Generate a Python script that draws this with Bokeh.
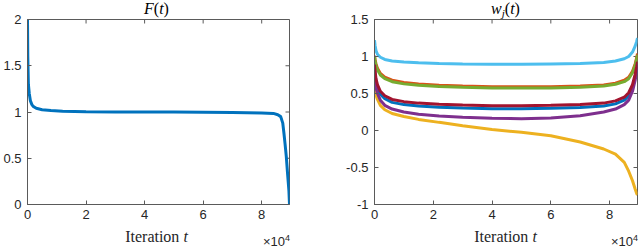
import math
from bokeh.plotting import figure
from bokeh.layouts import row, column
from bokeh.models import Range1d, FixedTicker, Div
from bokeh.embed import file_html
from bokeh.resources import INLINE

# ---- data (iterations t) ----
f_t = [0, 100, 300, 600, 1000, 1500, 2000, 3000, 5000, 8000, 12000, 20000, 30000, 40000,
       50000, 60000, 70000, 80000, 84000, 85500, 86500, 87200, 87600, 88000, 88400, 88800,
       89300, 89500]
f_val = [2.0, 1.6, 1.3, 1.2, 1.12, 1.08, 1.06, 1.04, 1.025, 1.015, 1.008, 1.003, 1.0, 1.0,
         1.0, 0.998, 0.995, 0.99, 0.985, 0.97, 0.95, 0.88, 0.77, 0.65, 0.52, 0.35, 0.15, 0.0]

w_t = [0, 200, 500, 1000, 2000, 3500, 6000, 10000, 15000, 22000, 30000, 40000, 50000,
       60000, 70000, 78000, 82000, 85000, 86500, 87800, 88700, 89200, 89500]
w_blue = [0.85, 0.76, 0.66, 0.58, 0.49, 0.43, 0.38, 0.35, 0.33, 0.315, 0.305, 0.295, 0.295,
          0.30, 0.31, 0.33, 0.36, 0.41, 0.47, 0.58, 0.72, 0.83, 0.90]
w_orange = [1.01, 0.96, 0.90, 0.84, 0.77, 0.72, 0.68, 0.65, 0.63, 0.61, 0.60, 0.59, 0.59,
            0.59, 0.60, 0.615, 0.64, 0.68, 0.72, 0.80, 0.90, 0.98, 1.04]
w_yellow = [0.62, 0.55, 0.48, 0.42, 0.34, 0.28, 0.23, 0.19, 0.15, 0.11, 0.065, 0.015, -0.025,
            -0.07, -0.155, -0.25, -0.32, -0.43, -0.55, -0.68, -0.79, -0.85, -0.87]
w_purple = [0.78, 0.68, 0.58, 0.50, 0.41, 0.34, 0.29, 0.25, 0.22, 0.195, 0.18, 0.165, 0.16,
            0.17, 0.20, 0.25, 0.29, 0.35, 0.41, 0.53, 0.68, 0.80, 0.88]
w_green = [1.0, 0.94, 0.88, 0.82, 0.75, 0.70, 0.66, 0.63, 0.61, 0.595, 0.585, 0.575, 0.575,
           0.575, 0.585, 0.60, 0.625, 0.66, 0.70, 0.78, 0.88, 0.96, 1.02]
w_lightblue = [1.22, 1.15, 1.08, 1.03, 0.99, 0.96, 0.94, 0.925, 0.915, 0.905, 0.90, 0.895,
               0.895, 0.90, 0.905, 0.92, 0.94, 0.97, 1.0, 1.06, 1.14, 1.20, 1.25]
w_darkred = [0.89, 0.80, 0.70, 0.62, 0.53, 0.47, 0.42, 0.39, 0.37, 0.355, 0.345, 0.335, 0.335,
             0.34, 0.35, 0.37, 0.40, 0.45, 0.51, 0.62, 0.76, 0.86, 0.93]

w_series = [w_blue, w_orange, w_yellow, w_purple, w_green, w_lightblue, w_darkred]
w_colors = ["#0072BD", "#D95319", "#EDB120", "#7E2F8E", "#77AC30", "#4DBEEE", "#A2142F"]

x_ticks = [0, 20000, 40000, 60000, 80000]
x_tick_labels = ["0", "2", "4", "6", "8"]
f_yticks = [0, 0.5, 1, 1.5, 2]
f_ytick_labels = ["0", "0.5", "1", "1.5", "2"]
w_yticks = [-1, -0.5, 0, 0.5, 1, 1.5]
w_ytick_labels = ["-1", "-0.5", "0", "0.5", "1", "1.5"]
x_max = 89500
f_ylim = (0, 2)
w_ylim = (-1, 1.5)

AX = "#5a5a5a"
TXT = "#262626"
SANS = "Liberation Sans"
SERIF = "Liberation Serif"

TITLE_H = 11
FIG_H = 213
XL_H = 23
MB_TOP = 8
MB_BOT = 20

W1, L1, R1 = 330, 24, 41
W2, L2, R2 = 309, 44, 2


def style(p, yticks, ylabels, ylim):
    p.xaxis.ticker = FixedTicker(ticks=x_ticks)
    p.xaxis.major_label_overrides = dict(zip(x_ticks, x_tick_labels))
    p.yaxis.ticker = FixedTicker(ticks=yticks)
    p.yaxis.major_label_overrides = dict(zip(yticks, ylabels))
    for ax in (p.xaxis[0], p.yaxis[0]):
        ax.major_tick_in = 4
        ax.major_tick_out = 0
        ax.minor_tick_line_color = None
        ax.axis_line_color = AX
        ax.major_tick_line_color = AX
        ax.major_label_text_font = SANS
        ax.major_label_text_font_size = "13px"
        ax.major_label_text_color = TXT
    p.xaxis.major_label_standoff = 5
    p.yaxis.major_label_standoff = 6
    # mirrored ticks on top and right edges (inner half visible, clipped by frame)
    p.scatter(x=x_ticks, y=[ylim[1]] * len(x_ticks), marker="dash", angle=math.pi / 2,
              size=8, line_color=AX, line_width=1)
    p.scatter(x=[x_max] * len(yticks), y=yticks, marker="dash",
              size=8, line_color=AX, line_width=1)
    p.xgrid.grid_line_color = None
    p.ygrid.grid_line_color = None
    p.outline_line_color = AX
    p.outline_line_width = 1
    p.background_fill_color = "white"
    p.border_fill_color = None


def title_div(width, left, right, html):
    fw = width - left - right
    inner = (f'<div style="position:absolute;left:{left}px;top:0px;width:{fw}px;'
             f'text-align:center;font-family:\'{SERIF}\';font-size:16px;line-height:16px;'
             f'color:#000;white-space:nowrap">{html}</div>')
    return Div(text=f'<div style="position:relative;width:{width}px;height:{TITLE_H}px;overflow:visible">{inner}</div>',
               width=width, height=TITLE_H, margin=0,
               styles={"overflow": "visible", "z-index": "10", "position": "relative"})


def xlabel_div(width, left, right):
    fw = width - left - right
    lab = (f'<div style="position:absolute;left:{left}px;top:5px;width:{fw}px;'
           f'text-align:center;font-family:\'{SERIF}\';font-size:16px;line-height:16px;'
           f'color:{TXT};white-space:nowrap">Iteration <i>t</i></div>')
    exp = (f'<div style="position:absolute;right:{right - 1}px;top:11px;'
           f'font-family:\'{SANS}\';font-size:13px;line-height:13px;color:{TXT};white-space:nowrap">'
           f'\u00d710<span style="font-size:9px;position:relative;top:-5px">4</span></div>')
    return Div(text=f'<div style="position:relative;width:{width}px;height:{XL_H}px">{lab}{exp}</div>',
               width=width, height=XL_H, margin=0, styles={"overflow": "visible"})


# ---- left: F(t) ----
p1 = figure(width=W1, height=FIG_H, output_backend="svg", toolbar_location=None,
            x_range=Range1d(0, x_max), y_range=Range1d(*f_ylim),
            min_border_left=L1, min_border_right=R1, min_border_top=MB_TOP, min_border_bottom=MB_BOT)
style(p1, f_yticks, f_ytick_labels, f_ylim)
p1.line(f_t, f_val, line_width=3, color="#0072BD")

# ---- right: w_j(t) ----
p2 = figure(width=W2, height=FIG_H, output_backend="svg", toolbar_location=None,
            x_range=Range1d(0, x_max), y_range=Range1d(*w_ylim),
            min_border_left=L2, min_border_right=R2, min_border_top=MB_TOP, min_border_bottom=MB_BOT)
style(p2, w_yticks, w_ytick_labels, w_ylim)
for ys, c in zip(w_series, w_colors):
    p2.line(w_t, ys, line_width=3, color=c)

t1 = title_div(W1, L1, R1, "<i>F</i>(<i>t</i>)")
t2 = title_div(W2, L2, R2,
               '<i>w</i><span style="font-size:11px;font-style:italic;position:relative;top:3px">j</span>(<i>t</i>)')
x1 = xlabel_div(W1, L1, R1)
x2 = xlabel_div(W2, L2, R2)

layout = column(row(t1, t2, spacing=0), row(p1, p2, spacing=0), row(x1, x2, spacing=0), spacing=0)
open("out.html", "w").write(file_html(layout, INLINE))
